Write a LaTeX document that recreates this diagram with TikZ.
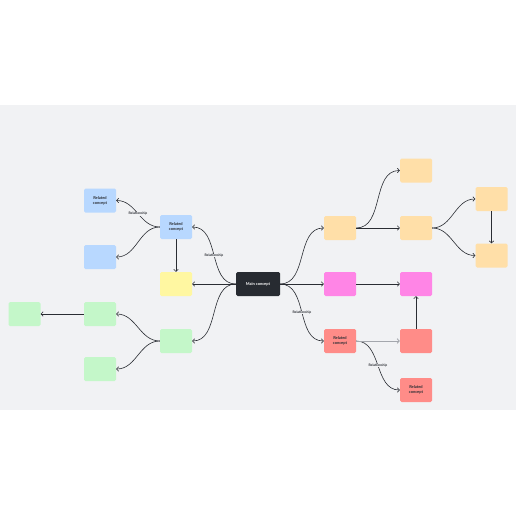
\documentclass[tikz,border=0pt]{standalone}
\usepackage{fontspec}
\setsansfont{Lato}
\usetikzlibrary{arrows.meta}
\definecolor{bggray}{HTML}{F1F2F4}
\definecolor{inkc}{HTML}{2A2D33}
\definecolor{mainc}{HTML}{272B31}
\definecolor{bluec}{HTML}{B8D8FF}
\definecolor{yellowc}{HTML}{FFF7A1}
\definecolor{greenc}{HTML}{C4F7C9}
\definecolor{orangec}{HTML}{FFDFA8}
\definecolor{pinkc}{HTML}{FF85E6}
\definecolor{redc}{HTML}{FF8C88}
\definecolor{fadec}{HTML}{A4A7AD}

\begin{document}
\begin{tikzpicture}[x=1pt,y=-1pt,
  box/.style={rounded corners=1.5pt,minimum width=32pt,minimum height=24pt,inner sep=0pt,
    align=center,text=inkc,font=\sffamily\bfseries\fontsize{4}{4.8}\selectfont},
  link/.style={draw=inkc,line width=0.6pt,-{Straight Barb[length=2pt,width=4.5pt]}},
  rel/.style={fill=bggray,inner sep=0.4pt,text=inkc,font=\sffamily\bfseries\fontsize{3.4}{4}\selectfont}]

  % canvas
  \fill[white] (0,0) rectangle (516,516);
  \fill[bggray] (0,105) rectangle (516,410);

  % main
  \node[box,fill=mainc,text=white,minimum width=44pt] (main) at (258,284) {Main concept};

  % left branch
  \node[box,fill=bluec] (rc1) at (176,227) {Related\\concept};
  \node[box,fill=bluec] (bl1) at (100,200.5) {Related\\concept};
  \node[box,fill=bluec] (bl2) at (100,257) {};
  \node[box,fill=yellowc] (ye) at (176,284) {};
  \node[box,fill=greenc] (gr1) at (176,341) {};
  \node[box,fill=greenc] (gr2) at (100,314) {};
  \node[box,fill=greenc] (gr3) at (100,369) {};
  \node[box,fill=greenc] (gr4) at (24.5,314) {};

  % right branch
  \node[box,fill=orangec] (or1) at (340,228) {};
  \node[box,fill=orangec] (or2) at (416,170.5) {};
  \node[box,fill=orangec] (or3) at (416,228) {};
  \node[box,fill=orangec] (or4) at (491.5,199) {};
  \node[box,fill=orangec] (or5) at (491.5,255.5) {};
  \node[box,fill=pinkc] (mg1) at (340,284) {};
  \node[box,fill=pinkc] (mg2) at (416,284) {};
  \node[box,fill=redc] (rd1) at (340,341) {Related\\concept};
  \node[box,fill=redc] (rd2) at (416,341) {};
  \node[box,fill=redc] (rd3) at (416,390) {Related\\concept};

  % curved links
  \draw[link] (main.west) to[out=180,in=0] node[rel]{Relationship} (rc1.east);
  \draw[link] (main.west) to[out=180,in=0] (gr1.east);
  \draw[link] (rc1.west) to[out=180,in=0] node[rel]{Relationship} (bl1.east);
  \draw[link] (main.east) to[out=0,in=180] node[rel]{Relationship} (rd1.west);
  \draw[link] (rd1.east) to[out=0,in=180] node[rel]{Relationship} (rd3.west);
  \foreach \a/\b in {rc1/bl2,gr1/gr2,gr1/gr3}
    \draw[link] (\a.west) to[out=180,in=0] (\b.east);
  \foreach \a/\b in {main/or1,or1/or2,or3/or4,or3/or5}
    \draw[link] (\a.east) to[out=0,in=180] (\b.west);

  % straight links
  \draw[link] (main.west) -- (ye.east);
  \draw[link] (gr2.west) -- (gr4.east);
  \draw[link] (rc1.south) -- (ye.north);
  \foreach \a/\b in {main/mg1,or1/or3,mg1/mg2}
    \draw[link] (\a.east) -- (\b.west);
  \draw[link,draw=fadec,line width=0.9pt] (rd1.east) -- (rd2.west);
  \draw[link] (or4.south) -- (or5.north);
  \draw[link] (rd2.north) -- (mg2.south);
\end{tikzpicture}
\end{document}
